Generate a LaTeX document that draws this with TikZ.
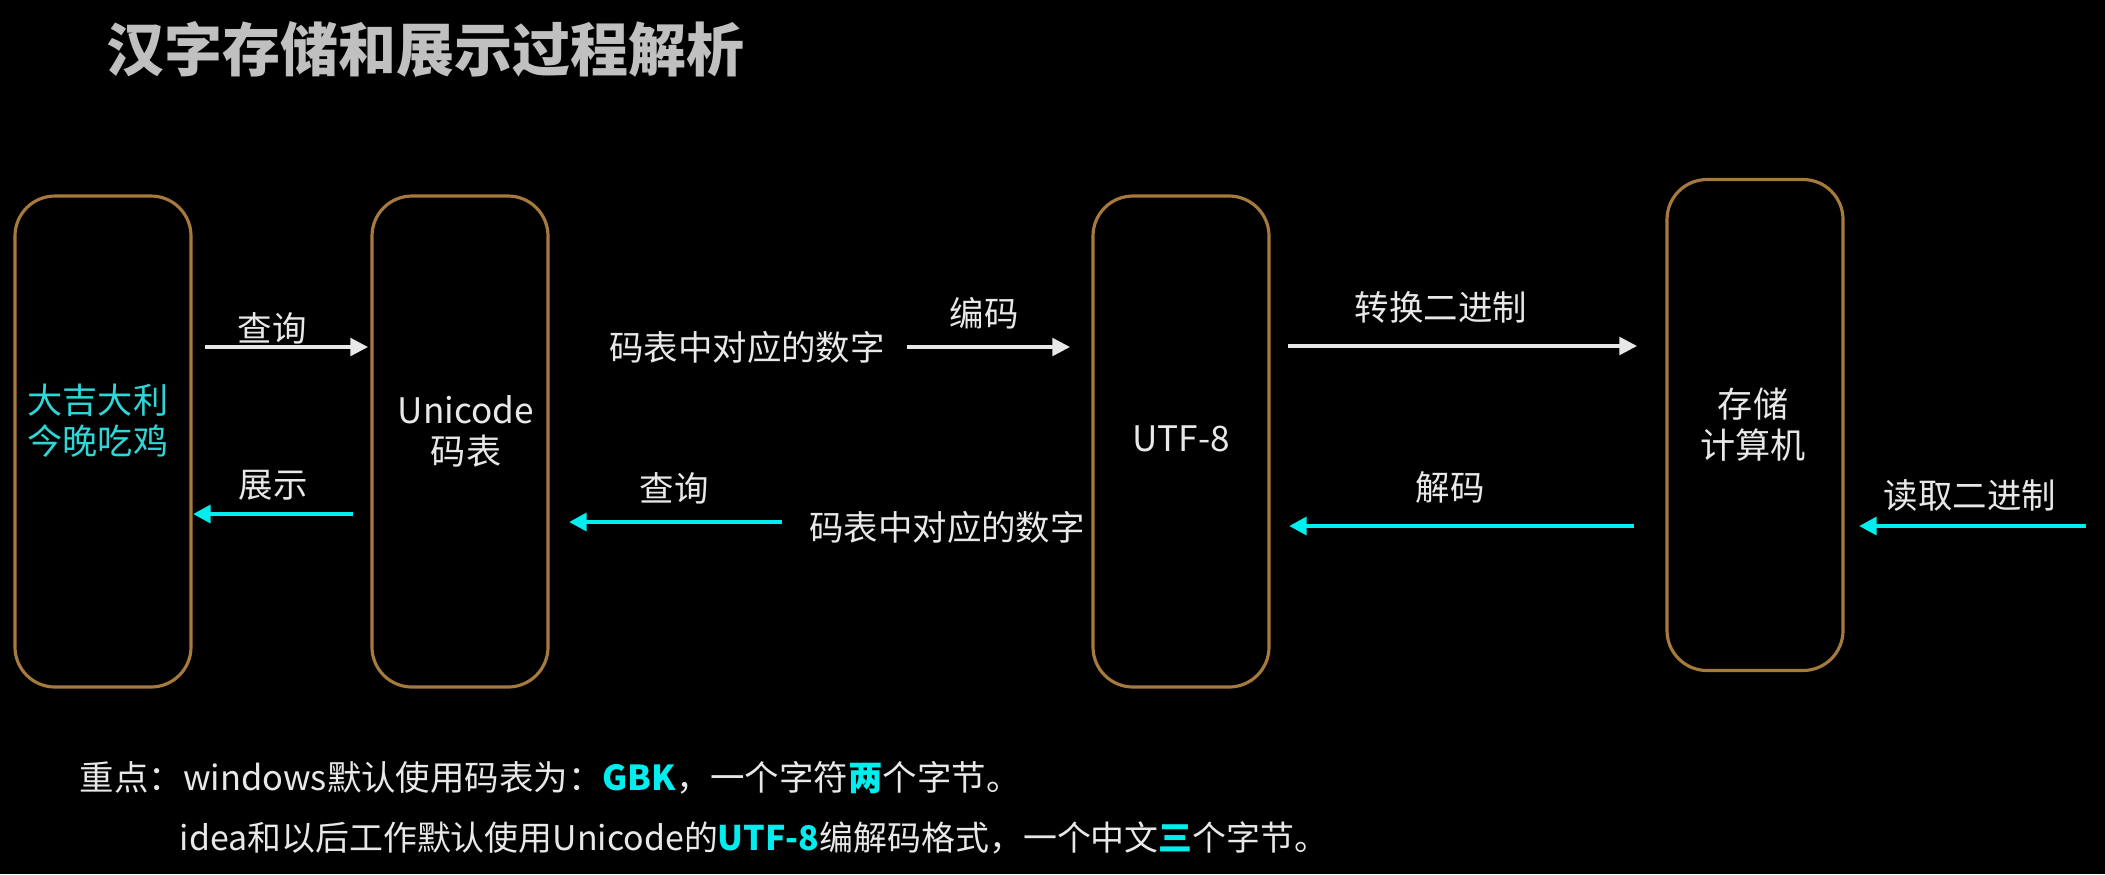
\documentclass[tikz,border=0pt]{standalone}
\usepackage{fontspec}
\setmainfont{Noto Sans CJK SC}
\usetikzlibrary{arrows.meta}
\definecolor{boxbrown}{RGB}{166,121,60}
\definecolor{hicyan}{RGB}{0,238,238}
\definecolor{charcyan}{RGB}{45,215,215}
\definecolor{txtwhite}{RGB}{232,232,232}
\definecolor{titlegray}{RGB}{192,192,192}

\begin{document}
\begin{tikzpicture}[>={Triangle[length=5pt,width=5pt]},
  every node/.style={font=\fontsize{9.8pt}{11.7pt}\selectfont, text=txtwhite, inner sep=0pt},
  stage/.style={draw=boxbrown, line width=0.9pt, rounded corners=0.4cm, minimum width=1.76cm, minimum height=4.91cm},
  boxtext/.style={align=center, font=\fontsize{10pt}{11.7pt}\selectfont},
  fwd/.style={->, draw=txtwhite, line width=0.95pt},
  back/.style={->, draw=hicyan, line width=1.35pt}]
  \fill[black] (0,0) rectangle (21.05,-8.74);
  \useasboundingbox (0,0) rectangle (21.05,-8.74);

  \node[anchor=west, text=titlegray, font=\fontsize{16.5pt}{20pt}\selectfont\bfseries] (title) at (1.06,-0.49) {汉字存储和展示过程解析};

  \node[stage] (chars) at (1.03,-4.415) {};
  \node[stage] (unicode) at (4.60,-4.415) {};
  \node[stage] (utf) at (11.81,-4.415) {};
  \node[stage] (store) at (17.55,-4.25) {};

  \node[boxtext, text=charcyan] (charstext) at (0.98,-4.205) {大吉大利\\今晚吃鸡};
  \node[boxtext] (unitext) at (4.66,-4.315) {Unicode\\码表};
  \node[boxtext] (utftext) at (11.81,-4.39) {UTF-8};
  \node[boxtext] (storetext) at (17.53,-4.25) {存储\\计算机};

  \coordinate (a1s) at (2.05,-3.47);  \coordinate (a1e) at (3.68,-3.47);
  \coordinate (a2s) at (3.53,-5.14);  \coordinate (a2e) at (1.93,-5.14);
  \coordinate (a3s) at (9.07,-3.47);  \coordinate (a3e) at (10.70,-3.47);
  \coordinate (a4s) at (7.82,-5.22);  \coordinate (a4e) at (5.69,-5.22);
  \coordinate (a5s) at (12.88,-3.46); \coordinate (a5e) at (16.37,-3.46);
  \coordinate (a6s) at (16.34,-5.26); \coordinate (a6e) at (12.89,-5.26);
  \coordinate (a7s) at (20.86,-5.26); \coordinate (a7e) at (18.59,-5.26);

  \draw[fwd] (a1s) -- (a1e);
  \draw[back] (a2s) -- (a2e);
  \draw[fwd] (a3s) -- (a3e);
  \draw[back] (a4s) -- (a4e);
  \draw[fwd] (a5s) -- (a5e);
  \draw[back] (a6s) -- (a6e);
  \draw[back] (a7s) -- (a7e);

  \node (lookup1) at (2.72,-3.28) {查询};
  \node (show) at (2.73,-4.85) {展示};
  \node (num1) at (7.47,-3.47) {码表中对应的数字};
  \node (encode) at (9.84,-3.13) {编码};
  \node (tobin) at (14.41,-3.07) {转换二进制};
  \node (lookup2) at (6.74,-4.88) {查询};
  \node (num2) at (9.47,-5.27) {码表中对应的数字};
  \node (decode) at (14.50,-4.87) {解码};
  \node (readbin) at (19.70,-4.95) {读取二进制};

  \node[anchor=west] (note1) at (0.79,-7.78) {重点：windows默认使用码表为：{\bfseries\color{hicyan}GBK}，一个字符{\bfseries\color{hicyan}两}个字节。};
  \node[anchor=west, font=\fontsize{9.65pt}{11.7pt}\selectfont] (note2) at (1.79,-8.38) {idea和以后工作默认使用Unicode的{\bfseries\color{hicyan}UTF-8}编解码格式，一个中文{\bfseries\color{hicyan}三}个字节。};
\end{tikzpicture}
\end{document}
